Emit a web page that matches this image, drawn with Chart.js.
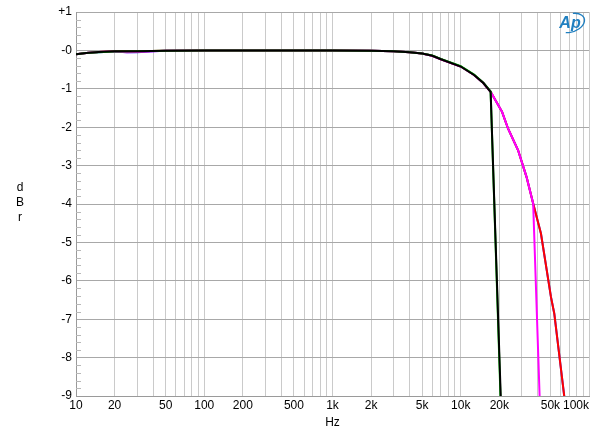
<!DOCTYPE html>
<html>
<head>
<meta charset="utf-8">
<script src="https://cdn.jsdelivr.net/npm/chart.js@4"></script>
<style>
  html, body { margin: 0; padding: 0; background: #fff; }
  #wrap { width: 600px; height: 436px; }
</style>
</head>
<body>
<div id="wrap"><canvas id="grafica" width="600" height="436"></canvas></div>
<script>
// tick labels
const xTickLabels = { 10: "10", 20: "20", 50: "50", 100: "100", 200: "200", 500: "500",
  1000: "1k", 2000: "2k", 5000: "5k", 10000: "10k", 20000: "20k", 50000: "50k", 100000: "100k" };
const yTickLabels = ["+1", "-0", "-1", "-2", "-3", "-4", "-5", "-6", "-7", "-8", "-9"];
const yTickValues = [1, 0, -1, -2, -3, -4, -5, -6, -7, -8, -9];

// series (Hz, dBr)
const blackHz = [10, 12, 15, 20, 30, 50, 100, 500, 1000, 2000, 3000, 4000, 5000, 6000, 7000, 10000, 12700, 15000, 17100, 20500];
const blackDb = [-0.10, -0.07, -0.04, -0.02, -0.02, -0.01, 0, 0, 0, -0.01, -0.02, -0.05, -0.08, -0.14, -0.23, -0.42, -0.64, -0.85, -1.08, -9];

const greenHz = [10, 12, 15, 20, 30, 50, 100, 500, 1000, 2000, 3000, 4000, 5000, 6000, 7000, 10000, 12700, 15000, 17100, 20400];
const greenDb = [-0.10, -0.07, -0.05, -0.03, -0.02, -0.01, 0, 0, 0, -0.01, -0.02, -0.05, -0.08, -0.13, -0.22, -0.41, -0.63, -0.84, -1.07, -9];

const magentaHz = [10, 12, 15, 20, 25, 30, 40, 50, 100, 500, 1000, 2000, 3000, 4000, 5000, 6000, 7000, 10000, 12700, 15000, 17100, 21000, 23400, 28000, 32600, 36700, 41200];
const magentaDb = [-0.10, -0.07, -0.04, -0.03, -0.05, -0.04, -0.02, -0.01, 0, 0, 0, -0.01, -0.02, -0.05, -0.08, -0.14, -0.23, -0.42, -0.64, -0.85, -1.08, -1.6, -2.04, -2.6, -3.3, -3.99, -9];

const blueHz = [10, 12, 15, 20, 25, 30, 40, 50, 100, 500, 1000, 2000, 3000, 4000, 5000, 6000, 7000, 10000, 12700, 15000, 17100, 21000, 23400, 28000, 32600, 36700, 42200, 50500, 53600, 64100];
const blueDb = [-0.10, -0.07, -0.05, -0.03, -0.05, -0.05, -0.02, -0.01, 0, 0, 0, -0.01, -0.02, -0.05, -0.08, -0.14, -0.23, -0.42, -0.64, -0.85, -1.08, -1.6, -2.04, -2.6, -3.3, -3.99, -4.77, -6.42, -6.85, -9];

const redHz = [10, 12, 15, 20, 30, 50, 100, 500, 1000, 2000, 3000, 4000, 5000, 6000, 7000, 10000, 12700, 15000, 17100, 21000, 23400, 28000, 32600, 36700, 42200, 50500, 53600, 64100];
const redDb = [-0.10, -0.07, -0.04, -0.02, -0.02, -0.01, 0, 0, 0, -0.01, -0.02, -0.05, -0.08, -0.14, -0.23, -0.42, -0.64, -0.85, -1.08, -1.6, -2.04, -2.6, -3.3, -3.99, -4.77, -6.42, -6.85, -9];

const pares = (hz, db) => hz.map((f, i) => ({ x: f, y: db[i] }));
const serie = (hz, db, color) => ({
  data: pares(hz, db),
  borderColor: color,
  borderWidth: 2,
  pointRadius: 0,
  tension: 0,
  fill: false
});

const fuente = '"Liberation Sans", Arial, sans-serif';

// dibuja etiquetas, titulos, marcas menores y logo
const decorado = {
  id: "decorado",
  beforeDraw(chart) {
    const ctx = chart.ctx;
    ctx.save();
    ctx.fillStyle = "#fff";
    ctx.fillRect(0, 0, chart.width, chart.height);
    ctx.restore();
  },
  beforeDatasetsDraw(chart) {
    const ctx = chart.ctx;
    const y = chart.scales.y;
    const area = chart.chartArea;
    ctx.save();
    ctx.strokeStyle = "#b8b8b8";
    ctx.lineWidth = 1;
    for (let k = -45; k <= 5; k++) {
      if (k % 5 === 0) continue;
      const py = Math.round(y.getPixelForValue(k / 5)) + 0.5;
      ctx.beginPath();
      ctx.moveTo(area.left, py);
      ctx.lineTo(area.left + 5, py);
      ctx.stroke();
    }
    ctx.restore();
  },
  afterDraw(chart) {
    const ctx = chart.ctx;
    const x = chart.scales.x;
    const y = chart.scales.y;
    const area = chart.chartArea;
    ctx.save();
    ctx.fillStyle = "#000";
    ctx.font = "12px " + fuente;
    // eje y
    ctx.textAlign = "right";
    ctx.textBaseline = "middle";
    yTickValues.forEach((v, i) => {
      ctx.fillText(yTickLabels[i], area.left - 4, y.getPixelForValue(v));
    });
    // eje x
    Object.keys(xTickLabels).forEach(k => {
      const v = Number(k);
      const px = x.getPixelForValue(v);
      ctx.textAlign = v === 100000 ? "right" : "center";
      ctx.fillText(xTickLabels[k], px, area.bottom + 10);
    });
    // titulos
    ctx.textAlign = "center";
    ctx.fillText("Hz", (area.left + area.right) / 2, area.bottom + 27);
    ["d", "B", "r"].forEach((c, i) => ctx.fillText(c, 20, 188 + i * 15));
    // logo Ap
    ctx.fillStyle = "#1f7fc0";
    ctx.strokeStyle = "#1f7fc0";
    ctx.font = "italic bold 16px " + fuente;
    ctx.fillText("Ap", 570, 24);
    ctx.lineWidth = 1.3;
    ctx.beginPath();
    ctx.ellipse(571, 23, 14, 9, -0.35, -1.2, 2.2);
    ctx.stroke();
    ctx.restore();
  }
};

// el primer conjunto de datos queda dibujado encima
new Chart(document.querySelector("#grafica"), {
  type: "line",
  data: {
    datasets: [
      serie(blackHz, blackDb, "#000000"),
      serie(greenHz, greenDb, "#00c000"),
      serie(magentaHz, magentaDb, "#ff00ff"),
      serie(redHz, redDb, "#ff0000"),
      serie(blueHz, blueDb, "#2040ff")
    ]
  },
  options: {
    responsive: false,
    animation: false,
    layout: { padding: { left: 76, right: 11, top: 12, bottom: 40 } },
    plugins: { legend: { display: false }, tooltip: { enabled: false } },
    scales: {
      x: {
        type: "logarithmic",
        min: 10,
        max: 100000,
        afterBuildTicks(axis) {
          const t = [];
          for (let d = 10; d <= 10000; d *= 10) {
            for (let m = 1; m <= 9; m++) t.push({ value: m * d });
          }
          t.push({ value: 100000 });
          axis.ticks = t;
        },
        ticks: { display: false },
        grid: { color: "#cacaca", lineWidth: 1, drawTicks: false },
        border: { color: "#9a9a9a" }
      },
      y: {
        type: "linear",
        min: -9,
        max: 1,
        afterBuildTicks(axis) {
          axis.ticks = yTickValues.map(v => ({ value: v }));
        },
        ticks: { display: false },
        grid: { color: "#a8a8a8", lineWidth: 1, drawTicks: false },
        border: { color: "#9a9a9a" }
      }
    }
  },
  plugins: [decorado]
});
</script>
</body>
</html>
